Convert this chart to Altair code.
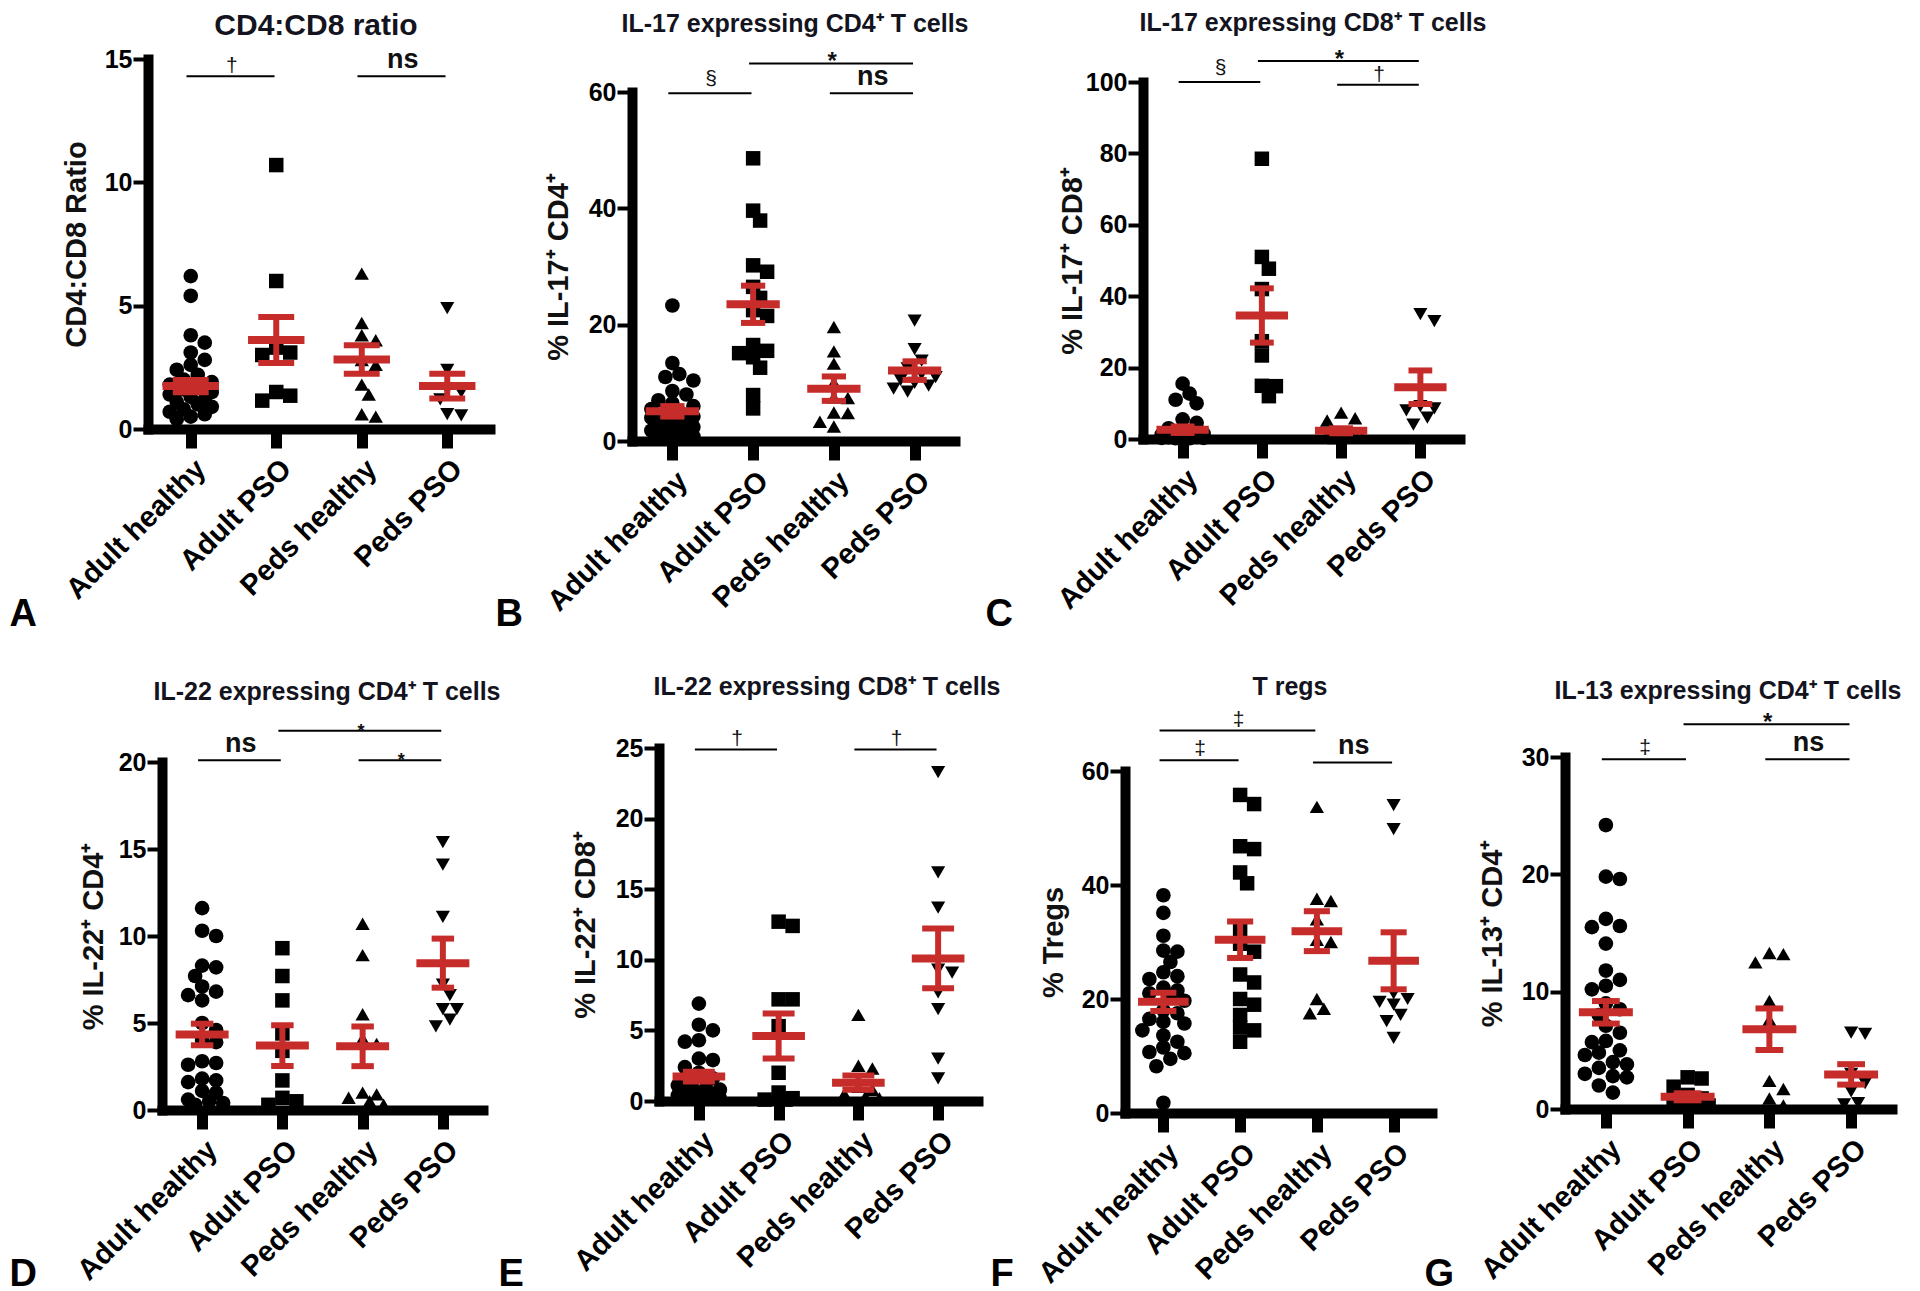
import json
import altair as alt
import pandas as pd

FONT = "Liberation Sans"
RED = "#c62d2a"

CATS = ["Adult healthy", "Adult PSO", "Peds healthy", "Peds PSO"]
SHAPES = ["circle", "square", "triangle-up", "triangle-down"]
SHAPE_SIZES = [215, 200, 220, 220]

# ---------------- data ----------------
# A  CD4:CD8 ratio
A_AH = [6.2, 5.4, 3.8, 3.5, 3.1, 2.8, 2.6, 2.4, 2.2, 2.0, 1.9, 1.8, 1.7, 1.6, 1.5, 1.4, 1.3, 1.2, 1.1, 1.0, 0.9, 0.8, 0.7, 0.6, 0.5, 0.4]
A_AP = [10.7, 6.0, 3.3, 3.1, 3.0, 1.5, 1.35, 1.15]
A_PH = [6.3, 4.3, 3.8, 3.6, 2.8, 2.6, 1.8, 1.4, 0.6, 0.5]
A_PP = [4.9, 2.4, 1.6, 1.5, 1.2, 0.6, 0.55]
A_MEANS = [1.74, 3.61, 2.82, 1.74]
A_SEMS = [0.25, 0.93, 0.58, 0.5]
A_BRACKETS = [(0, 1, 14.3, "†"), (2, 3, 14.3, "ns")]

# B  IL-17 CD4
B_AH = [23.3, 13.4, 11.5, 11.0, 10.4, 8.6, 8.0, 7.0, 6.5, 6.0, 5.5, 5.0, 4.5, 4.2, 4.0, 3.5, 3.2, 3.0, 2.7, 2.4, 2.0, 1.8, 1.5, 1.2, 1.0, 0.8, 0.6, 0.5]
B_AP = [48.6, 39.6, 37.9, 30.2, 29.1, 26.5, 24.6, 22.5, 21.5, 16.5, 15.5, 15.1, 14.4, 12.6, 7.9, 5.6]
B_PH = [19.6, 15.4, 13.3, 10.0, 7.5, 7.4, 4.9, 4.8, 3.3, 2.5]
B_PP = [20.7, 15.8, 13.8, 12.5, 11.5, 11.0, 10.5, 10.0, 9.5, 9.0, 8.5]
B_MEANS = [5.1, 23.5, 9.0, 12.1]
B_SEMS = [0.9, 3.2, 2.1, 1.6]
B_BRACKETS = [(0, 1, 59.8, "§"), (2, 3, 59.8, "ns"), (1, 3, 64.9, "*")]

# C  IL-17 CD8
C_AH = [15.5, 12.7, 11.0, 10.0, 5.5, 4.5, 3.0, 2.0, 1.5, 1.2, 1.0, 0.8, 0.6, 0.5, 0.4, 0.3, 0.3, 0.2, 0.2]
C_AP = [78.5, 51.0, 47.7, 42.0, 27.4, 23.4, 14.9, 14.8, 12.0]
C_PH = [7.4, 5.8, 5.2, 2.0, 1.5, 1.0, 0.8, 0.5, 0.3]
C_PP = [35.0, 33.0, 9.2, 8.6, 8.0, 6.0, 4.0]
C_MEANS = [2.6, 34.6, 2.3, 14.5]
C_SEMS = [0.9, 7.6, 0.7, 4.7]
C_BRACKETS = [(0, 1, 100.0, "§"), (1, 3, 105.9, "*"), (2, 3, 99.2, "†")]

# D  IL-22 CD4
D_AH = [11.6, 10.3, 10.0, 8.3, 8.2, 7.7, 7.1, 6.8, 6.6, 6.3, 5.0, 4.6, 4.0, 3.9, 2.8, 2.7, 2.6, 1.8, 1.7, 1.6, 1.1, 1.0, 0.6, 0.5, 0.4, 0.3]
D_AP = [9.3, 7.7, 6.3, 4.4, 3.4, 1.7, 0.7, 0.5, 0.3]
D_PH = [10.7, 8.9, 5.5, 4.1, 3.8, 1.0, 0.9, 0.7, 0.5, 0.3]
D_PP = [15.4, 14.1, 11.1, 7.2, 6.6, 5.8, 5.8, 5.2, 4.8]
D_MEANS = [4.34, 3.7, 3.66, 8.44]
D_SEMS = [0.62, 1.17, 1.14, 1.41]
D_BRACKETS = [(0, 1, 20.1, "ns"), (1, 3, 21.8, "*"), (2, 3, 20.1, "*")]

# E  IL-22 CD8
E_AH = [6.9, 5.4, 5.0, 4.3, 4.2, 3.0, 2.9, 2.4, 2.0, 1.6, 1.3, 1.1, 0.9, 0.8, 0.7, 0.6, 0.5, 0.4, 0.3, 0.3, 0.2]
E_AP = [12.7, 12.4, 7.2, 7.2, 5.3, 2.0, 0.6, 0.2, 0.1, 0.1]
E_PH = [6.1, 2.5, 2.3, 1.0, 0.8, 0.5, 0.3, 0.2]
E_PP = [23.3, 16.2, 13.7, 9.3, 9.1, 7.7, 6.5, 3.0, 1.6]
E_MEANS = [1.73, 4.6, 1.3, 10.1]
E_SEMS = [0.35, 1.59, 0.5, 2.12]
E_BRACKETS = [(0, 1, 24.9, "†"), (2, 3, 24.9, "†")]

# F  T regs
F_AH = [38.2, 35.1, 31.1, 28.5, 28.3, 26.5, 24.7, 24.0, 23.5, 22.0, 21.5, 21.0, 20.5, 19.7, 18.0, 17.5, 16.5, 16.0, 15.7, 14.5, 13.6, 12.5, 11.5, 10.7, 10.5, 9.5, 8.2, 1.8]
F_AP = [55.8, 54.2, 46.8, 46.3, 42.2, 40.3, 32.0, 29.7, 28.3, 24.3, 22.9, 20.0, 19.0, 17.2, 15.0, 14.5, 12.5]
F_PH = [53.7, 37.6, 37.2, 34.0, 30.4, 30.0, 20.0, 18.3, 17.5]
F_PP = [54.0, 49.8, 21.0, 20.0, 19.5, 19.0, 17.2, 16.1, 13.2]
F_MEANS = [19.5, 30.4, 31.9, 26.7]
F_SEMS = [1.6, 3.2, 3.5, 5.0]
F_BRACKETS = [(0, 1, 61.9, "‡"), (0, 2, 67.1, "‡"), (2, 3, 61.5, "ns")]

# G  IL-13 CD4
G_AH = [24.2, 19.8, 19.6, 16.2, 15.6, 15.5, 14.1, 11.8, 11.0, 10.5, 10.2, 9.0, 8.5, 8.0, 7.1, 6.5, 5.8, 5.7, 5.0, 4.8, 4.6, 4.0, 3.8, 3.5, 3.0, 2.8, 2.7, 2.0, 1.4]
G_AP = [2.7, 2.6, 1.9, 1.2, 0.9, 0.7, 0.5, 0.3, 0.2]
G_PH = [13.3, 13.2, 12.5, 9.2, 7.6, 2.4, 1.7, 0.9, 0.3]
G_PP = [6.5, 6.4, 3.0, 2.2, 1.5, 0.5, 0.4]
G_MEANS = [8.24, 1.04, 6.8, 2.95]
G_SEMS = [0.96, 0.3, 1.77, 0.87]
G_BRACKETS = [(0, 1, 29.8, "‡"), (1, 3, 32.8, "*"), (2, 3, 29.8, "ns")]

PANELS = [
    dict(key="A", title="CD4:CD8 ratio", ytitle="CD4:CD8 Ratio", ymax=15, ystep=5,
         values=[A_AH, A_AP, A_PH, A_PP], means=A_MEANS, sems=A_SEMS, brackets=A_BRACKETS),
    dict(key="B", title="IL-17 expressing CD4⁺ T cells", ytitle="% IL-17⁺ CD4⁺", ymax=60, ystep=20,
         values=[B_AH, B_AP, B_PH, B_PP], means=B_MEANS, sems=B_SEMS, brackets=B_BRACKETS),
    dict(key="C", title="IL-17 expressing CD8⁺ T cells", ytitle="% IL-17⁺ CD8⁺", ymax=100, ystep=20,
         values=[C_AH, C_AP, C_PH, C_PP], means=C_MEANS, sems=C_SEMS, brackets=C_BRACKETS),
    dict(key="D", title="IL-22 expressing CD4⁺ T cells", ytitle="% IL-22⁺ CD4⁺", ymax=20, ystep=5,
         values=[D_AH, D_AP, D_PH, D_PP], means=D_MEANS, sems=D_SEMS, brackets=D_BRACKETS),
    dict(key="E", title="IL-22 expressing CD8⁺ T cells", ytitle="% IL-22⁺ CD8⁺", ymax=25, ystep=5,
         values=[E_AH, E_AP, E_PH, E_PP], means=E_MEANS, sems=E_SEMS, brackets=E_BRACKETS),
    dict(key="F", title="T regs", ytitle="% Tregs", ymax=60, ystep=20,
         values=[F_AH, F_AP, F_PH, F_PP], means=F_MEANS, sems=F_SEMS, brackets=F_BRACKETS),
    dict(key="G", title="IL-13 expressing CD4⁺ T cells", ytitle="% IL-13⁺ CD4⁺", ymax=30, ystep=10,
         values=[G_AH, G_AP, G_PH, G_PP], means=G_MEANS, sems=G_SEMS, brackets=G_BRACKETS),
]

# ---------------- layout (page pixels) ----------------
# box = plot area (left, right, top, bottom); title = (centre x, baseline y); letter = (left x, baseline y)
LAYOUT = {
    "A": dict(box=(148, 490, 59, 429), title=(316, 35), tsize=30, letter=(9, 625), ytx=-72, cap=0.21, star=24),
    "B": dict(box=(632, 955, 92, 441), title=(795, 32), tsize=25, letter=(495, 625), ytx=-74, cap=0.15, star=24),
    "C": dict(box=(1143, 1460, 82, 439), title=(1313, 31), tsize=25, letter=(985, 625), ytx=-71, cap=0.15, star=24),
    "D": dict(box=(162, 483, 762, 1110), title=(327, 700), tsize=25, letter=(9, 1285), ytx=-69, cap=0.14, star=18),
    "E": dict(box=(659, 978, 748, 1101), title=(827, 695), tsize=25, letter=(498, 1285), ytx=-74, cap=0.20, star=24),
    "F": dict(box=(1125, 1432, 771, 1113), title=(1290, 695), tsize=25, letter=(990, 1285), ytx=-72, cap=0.17, star=24),
    "G": dict(box=(1565, 1892, 757, 1109), title=(1728, 699), tsize=25, letter=(1424, 1285), ytx=-73, cap=0.17, star=24),
}
ORIGIN = 8          # page margin
VIEW_W = 1900
VIEW_H = 1272
DIAM = 14

TEXT_STYLE = {"ns": (27, "bold", -8), "*": (None, "bold", 6), "†": (21, "normal", -4),
              "‡": (21, "normal", -5), "§": (21, "normal", -8)}

LABEL_EXPR = json.dumps(CATS) + "[datum.value]"


def swarm(vals, ypx, xpx, d):
    maxw = 0.32 * xpx
    placed = []
    offs = [0.0] * len(vals)
    order = sorted(range(len(vals)), key=lambda k: -vals[k])
    cands = [0.0]
    k = 1
    while k * d * 0.5 <= maxw:
        cands += [k * d * 0.5, -k * d * 0.5]
        k += 1
    for idx in order:
        y = vals[idx] * ypx
        best, best_d = 0.0, -1.0
        chosen = None
        for cx in cands:
            md = min([((cx - px) ** 2 + (y - py) ** 2) ** 0.5 for px, py in placed] or [1e9])
            if md >= 0.85 * d:
                chosen = cx
                break
            if md > best_d:
                best, best_d = cx, md
        if chosen is None:
            chosen = best
        placed.append((chosen, y))
        offs[idx] = chosen / xpx
    return offs


def build_panel(p):
    L = LAYOUT[p["key"]]
    left, right, top, bottom = [v - ORIGIN for v in L["box"]]
    xpx = (right - left) / 4.0
    ypx = (bottom - top) / p["ymax"]

    pts = []
    for gi, vals in enumerate(p["values"]):
        offs = swarm(vals, ypx, xpx, DIAM)
        for v, o in zip(vals, offs):
            pts.append({"x": gi + o, "v": v, "g": CATS[gi]})
    pts = pd.DataFrame(pts)

    lx, lb = L["letter"]
    xaxis = alt.Axis(orient="bottom", offset=bottom - VIEW_H,
                     values=[0, 1, 2, 3], labelExpr=LABEL_EXPR, labelAngle=315,
                     labelAlign="right", labelBaseline="top", labelFontSize=29,
                     labelFontWeight="bold", labelFont=FONT, labelColor="black",
                     labelPadding=6, labelOverlap=False, labelFlush=False, labelLimit=500,
                     tickSize=19, tickWidth=11, tickColor="black",
                     domainWidth=10, domainColor="black", domainCap="square", grid=False,
                     title=p["key"], titleX=lx - ORIGIN, titleY=(lb - ORIGIN) - bottom,
                     titleFontSize=38, titleFont=FONT, titleFontWeight="bold", titleColor="black",
                     titleAlign="left", titleBaseline="alphabetic", titleAngle=0)
    yaxis = alt.Axis(orient="left", offset=-left,
                     values=list(range(0, p["ymax"] + 1, p["ystep"])), format="d",
                     labelFontSize=25, labelFontWeight="bold", labelFont=FONT,
                     labelColor="black", labelPadding=1, tickSize=15, tickWidth=4,
                     tickColor="black", domainWidth=10, domainColor="black",
                     domainCap="square", grid=False, title=p["ytitle"],
                     titleFontSize=29, titleFont=FONT, titleFontWeight="bold",
                     titleColor="#111111", titleX=L["ytx"], titleY=(top + bottom) / 2.0,
                     titleBaseline="middle", titleAlign="center", titleAngle=270, titleLimit=500)
    X = alt.X("x:Q", scale=alt.Scale(domain=[-0.5, 3.5], range=[left, right], nice=False, zero=False),
              axis=xaxis)
    Y = alt.Y("v:Q", scale=alt.Scale(domain=[0, p["ymax"]], range=[bottom, top], nice=False, zero=False),
              axis=yaxis)

    points = alt.Chart(pts).mark_point(filled=True, opacity=1, color="black", strokeWidth=0).encode(
        x=X, y=Y,
        shape=alt.Shape("g:N", scale=alt.Scale(domain=CATS, range=SHAPES), legend=None),
        size=alt.Size("g:N", scale=alt.Scale(domain=CATS, range=SHAPE_SIZES), legend=None),
    )

    mean_df = pd.DataFrame([{"x": i - 0.33, "x2": i + 0.33, "v": m} for i, m in enumerate(p["means"])])
    vert_df = pd.DataFrame([{"x": i, "v": m - s, "v2": m + s}
                            for i, (m, s) in enumerate(zip(p["means"], p["sems"]))])
    cap_rows = []
    for i, (m, s) in enumerate(zip(p["means"], p["sems"])):
        for vv in (m - s, m + s):
            cap_rows.append({"x": i - L["cap"], "x2": i + L["cap"], "v": vv})
    cap_df = pd.DataFrame(cap_rows)

    means = alt.Chart(mean_df).mark_rule(color=RED, strokeWidth=8).encode(x=X, x2="x2:Q", y=Y)
    vert = alt.Chart(vert_df).mark_rule(color=RED, strokeWidth=6).encode(x=X, y=Y, y2="v2:Q")
    caps = alt.Chart(cap_df).mark_rule(color=RED, strokeWidth=6).encode(x=X, x2="x2:Q", y=Y)

    br_df = pd.DataFrame([{"x": i - 0.05, "x2": j - 0.02, "v": lv} for i, j, lv, _ in p["brackets"]])
    brackets = alt.Chart(br_df).mark_rule(color="black", strokeWidth=2).encode(x=X, x2="x2:Q", y=Y)

    layers = [points, means, vert, caps, brackets]
    for lab, (fs, fw, dy) in TEXT_STYLE.items():
        rows = [{"x": (i + j) / 2.0 - 0.02, "v": lv, "t": t} for i, j, lv, t in p["brackets"] if t == lab]
        if not rows:
            continue
        size = fs if fs is not None else L["star"]
        layers.append(alt.Chart(pd.DataFrame(rows)).mark_text(
            font=FONT, fontSize=size, fontWeight=fw, baseline="alphabetic", align="center",
            dy=dy, color="#111111").encode(x=X, y=Y, text="t:N"))

    # panel title, placed through the panel's own scales
    tcx, tby = L["title"]
    title_df = pd.DataFrame([{
        "x": 1.5 + ((tcx - ORIGIN) - (left + right) / 2.0) / xpx,
        "v": p["ymax"] + (top - (tby - ORIGIN)) / ypx,
        "t": p["title"],
    }])
    layers.append(alt.Chart(title_df).mark_text(
        font=FONT, fontSize=L["tsize"], fontWeight="bold", baseline="alphabetic", align="center",
        color="#141420").encode(x=X, y=Y, text="t:N"))

    return alt.layer(*layers)


panels = [build_panel(p) for p in PANELS]

chart = alt.layer(*panels).resolve_scale(
    x="independent", y="independent"
).resolve_axis(
    x="independent", y="independent"
).properties(
    width=VIEW_W, height=VIEW_H, padding=0, background="white",
).configure_view(stroke=None)

chart.save("out.html", embed_options={"renderer": "svg", "actions": False})
